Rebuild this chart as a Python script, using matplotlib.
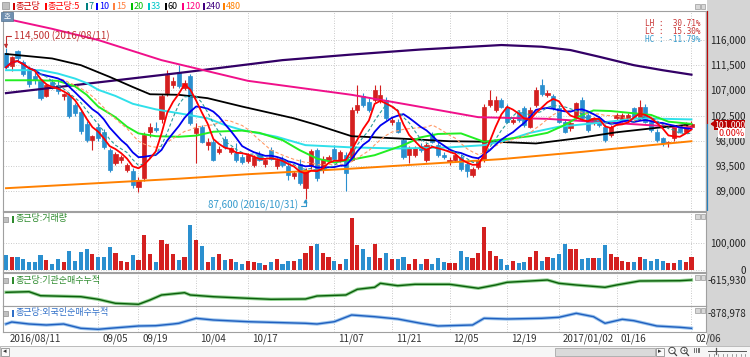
import numpy as np
import pandas as pd
import matplotlib
matplotlib.use("Agg")
import matplotlib.pyplot as plt
from matplotlib.patches import Rectangle, Polygon, Circle
from matplotlib import transforms

plt.rcParams['font.family'] = ['Noto Sans CJK KR', 'DejaVu Sans']

# ---- data ----
date_idx = [0, 16, 23, 33, 42, 57, 67, 77, 87, 96, 106, 119]
date_labels = ['2016/08/11', '09/05', '09/19', '10/04', '10/17', '11/07',
               '11/21', '12/05', '12/19', '2017/01/02', '01/16', '02/06']

opens = [113600, 111300, 114000, 112000, 110900, 109500, 108600, 106000, 108500, 108000,
         105900, 106200, 104300, 103200, 101000, 98200, 100500, 99500, 96300, 94000,
         94500, 92700, 92600, 89800, 91300, 99500, 100300, 101800, 106600, 108000,
         110200, 107400, 109500, 99300, 100400, 97200, 97800, 95900, 98300, 96000,
         95800, 95100, 94400, 93600, 95700, 93800, 96400, 93500, 94800, 93400,
         91600, 93900, 89600, 93500, 96300, 92800, 94500, 96600, 94600, 95500,
         94500, 103500, 106000, 105000, 105300, 105300, 105300, 101400, 101400, 98100,
         95400, 95400, 97000, 94500, 99000, 97200, 95500, 94200, 94500, 95100,
         93900, 91900, 93300, 94500, 104400, 103500, 105300, 104100, 101400, 103200,
         103800, 100500, 104400, 108000, 106200, 105900, 103800, 101400, 100200, 102300,
         105300, 102600, 101100, 102000, 100500, 99000, 102000, 101700, 101700, 103800,
         102000, 104100, 101400, 99600, 98400, 97500, 98400, 100200, 99600, 100500]
highs = [114500, 113200, 114300, 112500, 111300, 110500, 109000, 108300, 109000, 108600,
         106600, 106500, 104800, 103500, 101500, 99000, 101000, 100000, 96700, 96000,
         95500, 94000, 93100, 91500, 99500, 101200, 101400, 106300, 110600, 109300,
         111500, 108800, 110000, 101200, 100800, 98400, 98300, 97000, 98800, 96900,
         97600, 95600, 95800, 95500, 96200, 94800, 96800, 94900, 95300, 93800,
         92600, 94700, 93100, 96600, 96700, 95300, 95500, 97300, 96300, 95900,
         104000, 107900, 106500, 105600, 108000, 107900, 105800, 102200, 101800, 98500,
         97000, 97000, 97500, 97600, 99600, 97800, 96000, 95100, 95700, 95600,
         94300, 93300, 95000, 104500, 107000, 106000, 105700, 104500, 102300, 103500,
         104200, 104000, 107600, 109000, 107000, 106300, 104300, 101800, 101500, 105000,
         105800, 103000, 102300, 102500, 101000, 100800, 103000, 102900, 103000, 104100,
         105300, 104500, 101700, 100000, 98700, 98000, 100800, 100600, 101300, 101500]
lows = [110800, 110500, 112300, 109500, 107600, 108200, 105200, 105800, 107200, 106400,
        105300, 102000, 102500, 99200, 97800, 96300, 98000, 96600, 92400, 93700,
        94000, 92400, 89500, 88900, 90800, 98600, 99500, 101200, 106000, 107400,
        107400, 107000, 100800, 94000, 97500, 96400, 94300, 95600, 96500, 95600,
        94200, 93900, 94000, 93300, 94300, 93300, 94500, 93000, 93300, 91000,
        91200, 90100, 87600, 93000, 90800, 92300, 94200, 94500, 94200, 89000,
        94300, 103000, 104100, 103200, 105000, 104800, 101700, 100800, 99300, 94800,
        94000, 95000, 96000, 94200, 97500, 95100, 94800, 93600, 94200, 92600,
        91500, 91500, 93000, 94200, 104000, 103200, 103800, 101100, 101000, 101400,
        100500, 100200, 104100, 106000, 105800, 103500, 101100, 99300, 99800, 101800,
        101700, 99600, 100800, 100500, 97800, 98700, 101700, 101400, 101400, 102000,
        101700, 101100, 99600, 97800, 97000, 96900, 98000, 99300, 99300, 100000]
closes = [111100, 112900, 112700, 110000, 108100, 108800, 105600, 107900, 107500, 106800,
          106300, 102400, 103000, 99700, 98200, 98800, 98400, 96900, 92800, 95600,
          95100, 93600, 90000, 91000, 99000, 100500, 99900, 105900, 109800, 108600,
          107700, 108400, 101100, 100200, 97800, 97800, 94600, 96600, 96900, 96600,
          94500, 94200, 95400, 95100, 94500, 94500, 94800, 94500, 93600, 91800,
          92200, 90400, 92700, 96100, 91300, 94800, 95100, 94800, 96000, 92200,
          103500, 104400, 104400, 103500, 107100, 106200, 102000, 101700, 99600, 95100,
          96600, 96600, 96300, 97200, 97800, 95400, 95100, 94500, 95400, 93000,
          92500, 93000, 94600, 104100, 105300, 105300, 104100, 101400, 101700, 101700,
          100800, 103500, 107100, 106400, 106500, 103800, 101400, 99600, 101100, 104700,
          102000, 99900, 102000, 100800, 98100, 100500, 102600, 102600, 102600, 102300,
          104100, 101400, 99900, 98100, 97500, 97800, 100500, 99600, 101000, 101000]
volumes = [54000, 48000, 48000, 41000, 31000, 29000, 54000, 38000, 21000, 39000,
           31000, 69000, 34000, 66000, 79000, 60000, 50000, 48000, 85000, 62000,
           34000, 29000, 56000, 38000, 129000, 60000, 29000, 110000, 97000, 60000,
           38000, 50000, 166000, 110000, 89000, 31000, 48000, 58000, 38000, 39000,
           29000, 22000, 32000, 29000, 26000, 19000, 29000, 39000, 22000, 34000,
           35000, 39000, 63000, 89000, 97000, 64000, 50000, 34000, 22000, 41000,
           194000, 94000, 76000, 48000, 95000, 46000, 62000, 39000, 41000, 50000,
           22000, 39000, 22000, 39000, 22000, 45000, 29000, 26000, 26000, 69000,
           48000, 44000, 62000, 160000, 72000, 51000, 41000, 19000, 35000, 26000,
           29000, 50000, 70000, 35000, 48000, 45000, 59000, 97000, 79000, 79000,
           41000, 46000, 44000, 44000, 91000, 60000, 49000, 35000, 29000, 31000,
           48000, 39000, 34000, 39000, 34000, 26000, 26000, 38000, 30000, 50000]

# longer moving averages, read at sample days
ma20_idx = [0, 5, 9, 12, 14, 16, 19, 21, 23, 26, 30, 33, 36, 41, 44, 48, 51, 54, 57, 60,
            64, 69, 72, 75, 79, 83, 86, 91, 94, 97, 100, 102, 105, 109, 112, 115, 119]
ma20_val = [108800, 108800, 108700, 107700, 106200, 104100, 102200, 100500, 99300, 98800,
            98700, 98900, 99600, 99800, 99400, 98100, 96300, 94800, 94100, 94600,
            95400, 97200, 98600, 99200, 99300, 97800, 98200, 98800, 99400, 100800,
            102600, 103400, 103300, 102900, 102600, 101400, 101000]
ma33_idx = [0, 6, 9, 12, 14, 16, 19, 22, 26, 30, 35, 38, 41, 47, 52, 60, 68, 77, 83, 87,
            91, 96, 102, 110, 119]
ma33_val = [110600, 110600, 110000, 109100, 108300, 107100, 106000, 104600, 103600, 102900,
            102000, 100800, 99900, 98700, 97200, 96800, 96600, 96800, 97200, 98100,
            99400, 100500, 101100, 102000, 101800]
ma60_idx = [0, 8, 13, 18, 22, 25, 30, 35, 41, 50, 54, 60, 68, 77, 85, 92, 99, 106, 113, 119]
ma60_val = [113500, 112700, 111500, 109400, 107600, 106300, 106200, 105600, 104100, 102000,
            100800, 98800, 98400, 97900, 97800, 97500, 98400, 99500, 100300, 100900]
ma120_idx = [0, 8, 16, 27, 42, 60, 70, 82, 94, 105, 119]
ma120_val = [119800, 118000, 116000, 112400, 108700, 106200, 104400, 102200, 101900, 101200, 100300]
ma240_idx = [0, 15, 30, 48, 60, 72, 86, 93, 98, 103, 109, 114, 119]
ma240_val = [106500, 108300, 110100, 112400, 113400, 114300, 115100, 114800, 114200, 113000,
             111500, 110600, 109800]
ma480_idx = [0, 30, 42, 60, 86, 100, 119]
ma480_val = [89500, 91200, 92000, 93000, 94700, 96000, 97900]

# cumulative net buying (institutions / foreigners)
inst_idx = [0, 4, 6, 13, 16, 19, 23, 25, 27, 31, 32, 36, 42, 46, 52, 54, 59, 61, 64, 65,
            68, 71, 77, 82, 85, 87, 94, 96, 99, 104, 106, 110, 117, 119]
inst_val = [-862000, -850000, -930000, -950000, -1002000, -1082000, -1102000, -1016000,
            -916000, -870000, -916000, -950000, -982000, -1002000, -996000, -936000,
            -916000, -802000, -762000, -682000, -730000, -702000, -702000, -782000,
            -716000, -662000, -616000, -682000, -716000, -762000, -716000, -636000,
            -630000, -615930]
frgn_idx = [0, 1, 4, 7, 10, 13, 16, 18, 23, 26, 29, 30, 33, 36, 42, 52, 54, 57, 60, 64,
            68, 72, 75, 81, 83, 87, 93, 96, 99, 102, 104, 107, 109, 113, 117, 119]
frgn_val = [-1093000, -1053000, -1093000, -1113000, -1093000, -1179000, -1199000, -1179000,
            -1133000, -1127000, -1093000, -1079000, -979000, -1013000, -1047000, -1079000,
            -1093000, -1047000, -913000, -947000, -993000, -1079000, -1133000, -1113000,
            -979000, -993000, -979000, -959000, -878978, -947000, -1079000, -999000,
            -1027000, -1133000, -1159000, -1179000]

price_ticks = [89000, 93500, 98000, 102500, 107000, 111500, 116000]

UP = '#D42020'
DN = '#2A8FCF'

# ---- figure in pixel layout ----
W, H = 750, 357
fig = plt.figure(figsize=(W / 100, H / 100), dpi=100)
fig.patch.set_facecolor('white')


def px_axes(x0, y0, x1, y1, **kw):
    return fig.add_axes([x0 / W, 1 - y1 / H, (x1 - x0) / W, (y1 - y0) / H], **kw)


bg = px_axes(0, 0, W, H, zorder=-5)
bg.set_xlim(0, W)
bg.set_ylim(H, 0)
bg.axis('off')
fg = px_axes(0, 0, W, H, zorder=10)
fg.set_xlim(0, W)
fg.set_ylim(H, 0)
fg.axis('off')

# right grey strip and scroll bar
bg.add_patch(Rectangle((707, 0), 43, 346, color='#D5D5D5', lw=0))
bg.add_patch(Rectangle((0, 346), 750, 11, fc='#F6F6F6', ec='#B0B0B0', lw=0.6))
bg.add_patch(Rectangle((1, 347.5), 8, 8, fc='#FAFAFA', ec='#909090', lw=0.6))
bg.text(5, 351.5, '◂', fontsize=5, ha='center', va='center', color='#333', family='DejaVu Sans')
bg.add_patch(Rectangle((555, 347.5), 100, 8, fc='#DADADA', ec='#A8A8A8', lw=0.6))
bg.add_patch(Rectangle((656, 347.5), 8, 8, fc='#FAFAFA', ec='#909090', lw=0.6))
bg.text(660, 351.5, '▸', fontsize=5, ha='center', va='center', color='#333', family='DejaVu Sans')
for cx, sign in [(672, '-'), (684, '+')]:
    bg.add_patch(Circle((cx, 350.5), 3.2, fc='white', ec='#444', lw=0.7))
    bg.plot([cx + 2.2, cx + 4.5], [352.8, 355.5], color='#444', lw=0.9)
    bg.text(cx, 350.5, sign, fontsize=4.5, ha='center', va='center', color='#333', family='DejaVu Sans')
for k in range(4):
    bg.plot([694 + k * 1.8, 694 + k * 1.8], [347.5, 352], color='#555', lw=0.6)
bg.plot([708, 746], [351, 351], color='#555', lw=0.7)
bg.plot([716, 716], [347.5, 354], color='#555', lw=0.9)
for k in range(9):
    bg.plot([709 + k * 4.5, 709 + k * 4.5], [354, 356], color='#777', lw=0.5)

# legend row
bg.add_patch(Rectangle((2, 2), 7, 7, fc='#C0C0C0', ec='#909090', lw=0.5))
legend_items = [('종근당', '#D00000', 13), ('종근당:5', '#FF0000', 45), ('7', '#008080', 86),
                ('10', '#0000FF', 96), ('15', '#FF8040', 113), ('20', '#00C000', 131),
                ('33', '#00C8C8', 148), ('60', '#000000', 165), ('120', '#FF0080', 182),
                ('240', '#400080', 203), ('480', '#FF8000', 223)]
for lab, col, x in legend_items:
    bg.add_patch(Rectangle((x, 3), 1.6, 7, color=col, lw=0))
    bg.text(x + 3, 6.5, lab, color=col, fontsize=6.5, va='center', ha='left')

idx = np.arange(len(closes))
XL = (-0.52, 121.53)
o = np.array(opens)
c = np.array(closes)
cols = np.where(c >= o, UP, DN)

ax = px_axes(3, 11, 706, 211)
ax_v = px_axes(3, 212, 706, 272)
ax_i = px_axes(3, 273, 706, 306)
ax_f = px_axes(3, 306, 706, 332)


def style(a, ylim, yticks, ylabels, ygrid=True):
    a.set_xlim(*XL)
    a.set_ylim(*ylim)
    a.set_xticks(date_idx[1:])
    a.tick_params(axis='x', length=0, labelbottom=False)
    a.yaxis.tick_right()
    a.set_yticks(yticks)
    a.set_yticklabels(ylabels)
    a.tick_params(axis='y', length=0, pad=28.8, labelsize=7, labelcolor='#222222')
    for t in a.get_yticklabels():
        t.set_horizontalalignment('right')
    a.grid(True, axis='x', ls=(0, (1, 2)), color='#B8B8B8', lw=0.6)
    if ygrid:
        a.grid(True, axis='y', ls=(0, (1, 2)), color='#B8B8B8', lw=0.6)
    for s in a.spines.values():
        s.set_color('#A0A0A0')
        s.set_linewidth(0.8)
    a.set_axisbelow(True)


style(ax, (85425, 121185), price_ticks, [f'{v:,}' for v in price_ticks])
style(ax_v, (-7400, 214800), [0, 100000], ['0', '100,000'])
style(ax_i, (-1135930, -475930), [max(inst_val)], [f'{max(inst_val):,}'], ygrid=False)
style(ax_f, (-1252978, -732978), [max(frgn_val)], [f'{max(frgn_val):,}'], ygrid=False)

# candles
ax.vlines(idx, lows, highs, colors=cols, lw=0.8, zorder=2)
ax.bar(idx, np.abs(c - o), bottom=np.minimum(o, c), width=0.72, color=cols,
       edgecolor=cols, lw=0.5, zorder=2)

# moving averages
s = pd.Series(closes, dtype=float)
ma5 = s.rolling(5, min_periods=1).mean()
ma7 = s.rolling(7, min_periods=1).mean()
ma10 = s.rolling(10, min_periods=1).mean()
ma15 = s.rolling(15, min_periods=1).mean()

ax.plot(ma480_idx, ma480_val, color='#FF8000', lw=1.4, zorder=3)
ax.plot(ma240_idx, ma240_val, color='#330066', lw=1.6, zorder=3)
ax.plot(ma120_idx, ma120_val, color='#F0108A', lw=1.4, zorder=3)
ax.plot(ma60_idx, ma60_val, color='#000000', lw=1.3, zorder=3)
ax.plot(ma33_idx, ma33_val, color='#30E0EA', lw=1.4, zorder=3)
ax.plot(ma20_idx, ma20_val, color='#22EE22', lw=1.4, zorder=3)
ax.plot(idx, ma15, color='#FF9966', lw=0.8, ls=(0, (3, 2)), zorder=3)
ax.plot(idx, ma10, color='#0000F0', lw=1.3, zorder=4)
ax.plot(idx, ma7, color='#2A9A9A', lw=0.8, ls=(0, (3, 2)), zorder=4)
ax.plot(idx, ma5, color='#FF0000', lw=1.3, zorder=5)

# high / low annotations
hi = int(np.argmax(highs))
lo = int(np.argmin(lows))
ax.annotate(f'{highs[hi]:,} (2016/{date_labels[0][5:]})', xy=(hi, highs[hi]),
            xytext=(hi + 1.4, 116700), fontsize=7, color='#C03030', ha='left', va='center',
            arrowprops=dict(arrowstyle='-|>', mutation_scale=5, color='#C03030', lw=0.8,
                            shrinkA=0, shrinkB=0,
                            connectionstyle='angle,angleA=0,angleB=90,rad=0'))
ax.annotate(f'{lows[lo]:,} (2016/10/31)', xy=(lo, lows[lo]),
            xytext=(lo - 1.3, 86400), fontsize=7, color='#3399CC', ha='right', va='center',
            arrowprops=dict(arrowstyle='-|>', mutation_scale=5, color='#3399CC', lw=0.8,
                            shrinkA=0, shrinkB=0,
                            connectionstyle='angle,angleA=0,angleB=90,rad=0'))

last = closes[-1]
lh = (highs[hi] - lows[lo]) / lows[lo] * 100
lc = (last - lows[lo]) / lows[lo] * 100
hc = (last - highs[hi]) / highs[hi] * 100
for ypos, txt, col in [(0.9400, f'LH : {lh:6.2f}%', '#C83232'),
                       (0.8990, f'LC : {lc:6.2f}%', '#C83232'),
                       (0.8580, f'HC : {hc:6.2f}%', '#3399CC')]:
    ax.text(0.992, ypos, txt, transform=ax.transAxes, ha='right', va='center',
            fontsize=5.6, color=col, family='DejaVu Sans Mono')

# current price marker on the right edge
yt = ax.get_yaxis_transform()
ax.plot([1.002, 1.002], [last, ax.get_ylim()[1]], transform=yt, color='#C00000', lw=1.6,
        clip_on=False, solid_capstyle='butt')
ax.plot([1.002, 1.002], [ax.get_ylim()[0], last], transform=yt, color='#1E7FC0', lw=1.6,
        clip_on=False, solid_capstyle='butt')
ax.add_patch(Polygon([(1.0075, last), (1.0165, last + 800), (1.0165, last - 800)],
                     closed=True, transform=yt, color='#C00000', clip_on=False))
ax.text(1.0555, last - 150, f'{last:,}', transform=yt, ha='right', va='center', fontsize=6.3,
        color='white', bbox=dict(boxstyle='square,pad=0.04', fc='#B80000', ec='none'))
chg = (closes[-1] / closes[-2] - 1) * 100
ax.text(1.0555, 0.39, f'{chg:.2f}%', transform=ax.transAxes, ha='right', va='center',
        fontsize=6.5, color='#E00000', bbox=dict(boxstyle='square,pad=0.04', fc='white', ec='none'))

# volume
ax_v.bar(idx, volumes, width=0.72, color=cols, zorder=2)

# cumulative lines
ax_i.plot(inst_idx, inst_val, color='#8FD08F', lw=2.4, zorder=2)
ax_i.plot(inst_idx, inst_val, color='#0B5E0B', lw=1.0, zorder=3)
ax_f.plot(frgn_idx, frgn_val, color='#9CC4EC', lw=2.4, zorder=2)
ax_f.plot(frgn_idx, frgn_val, color='#1F5FBF', lw=1.0, zorder=3)

# date labels
dtrans = transforms.offset_copy(
    transforms.blended_transform_factory(ax_f.transData, ax_f.transAxes),
    fig=fig, x=4, y=0, units='dots')
for i, lab in zip(date_idx, date_labels):
    ax_f.text(i, -0.27, lab, transform=dtrans, ha='left', va='center', fontsize=7,
              color='#333333', clip_on=False)

# panel headers and little icons
fg.add_patch(Rectangle((1, 12), 12, 9, fc='#6F8FB0', ec='#50708F', lw=0.5))
fg.text(7, 16.5, '호', color='white', fontsize=5.5, ha='center', va='center')
headers = [(219, '종근당:거래량', '#2E8B2E'), (280, '종근당:기관순매수누적', '#2E8B2E'),
           (313, '종근당:외국인순매수누적', '#2F6FC8')]
for y, lab, col in headers:
    fg.add_patch(Rectangle((3, y - 2.5), 5, 5, fc='#C0C0C0', ec='#909090', lw=0.5))
    fg.add_patch(Rectangle((12, y - 3.5), 1.6, 7, color=col, lw=0))
    fg.text(15, y, lab, color=col, fontsize=6.5, ha='left', va='center')
for y in [4, 214, 275, 308]:
    for x in [695, 700.5]:
        fg.add_patch(Rectangle((x, y), 4.5, 4.5, fc='#D8D8D8', ec='#9A9A9A', lw=0.5))

fig.savefig('out.png', dpi=100)
